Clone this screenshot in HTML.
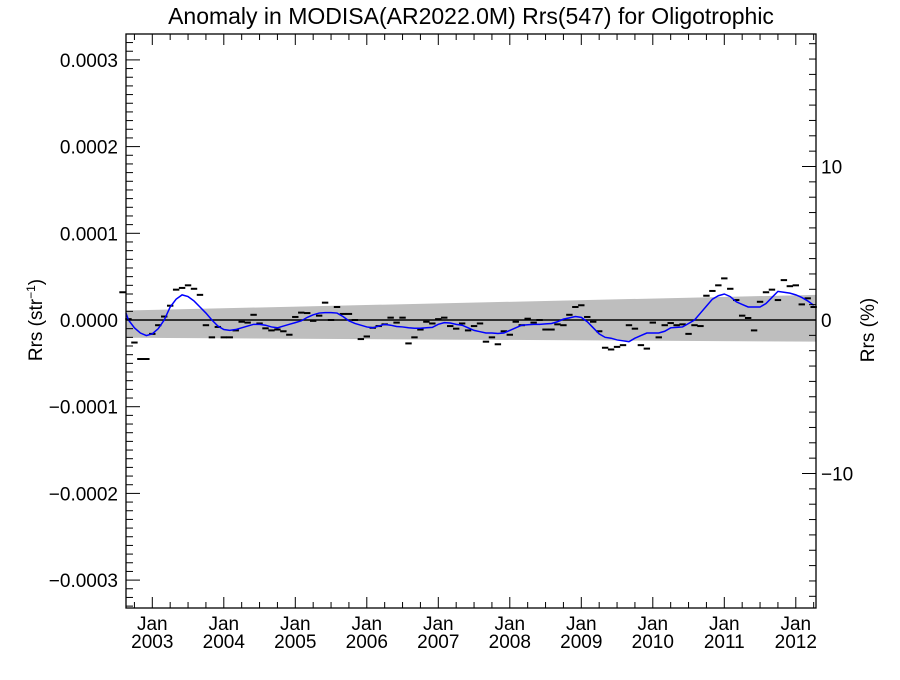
<!DOCTYPE html>
<html><head><meta charset="utf-8"><style>
body{margin:0;background:#fff;}
svg text{font-family:"Liberation Sans",sans-serif;fill:#000;}
</style></head><body>
<svg id="chart" width="900" height="675" viewBox="0 0 900 675">
<text x="471" y="24" font-size="23" text-anchor="middle">Anomaly in MODISA(AR2022.0M) Rrs(547) for Oligotrophic</text>
<g id="plot"></g>
</svg>
<script>
// monthly anomalies (units of 1e-5 sr^-1), starting Aug 2002
const startYear = 2002, startMonth = 8;
const monthlyAnomaly = [3.2,0.1,-2.6,-4.5,-4.5,-1.6,-0.6,0.4,1.65,3.5,3.7,4.0,3.6,2.9,-0.6,-2.0,-0.8,-2.0,-2.0,-1.2,-0.2,-0.3,0.6,-0.4,-0.96,-1.2,-1.1,-1.3,-1.7,0.35,0.85,0.8,-0.1,0.5,2.0,0,1.5,0.7,0.7,0,
-2.2,-1.9,-0.9,-0.7,-0.5,0.27,-0.3,0.27,-2.7,-2.0,-1.1,-0.2,-0.4,0.1,0.27,-0.7,-1.0,-0.4,-1.2,-0.7,-0.4,-2.5,-2.0,-2.8,-1.3,-1.7,-0.2,-0.6,0.15,-0.3,0,-1.1,-1.1,-0.5,-0.6,0.6,1.5,
1.7,0.35,-0.2,-1.3,-3.2,-3.4,-3.1,-2.9,-0.6,-1.0,-2.9,-3.3,-0.3,-2.0,-0.6,-0.35,-0.6,-0.5,-1.6,-0.6,-0.7,2.8,3.35,4.0,4.8,3.6,2.3,0.5,0.23,-1.2,2.1,3.2,3.5,2.3,4.6,3.9,4.0,1.8,2.5,1.5];
const smoothAnomaly = [0.8,0,-0.9,-1.5,-1.8,-1.6,-1.0,0,1.5,2.4,2.9,2.7,2.2,1.5,0.8,0,-0.7,-1.1,-1.2,-1.1,-0.9,-0.7,-0.5,-0.5,-0.6,-0.8,-0.9,-0.7,-0.5,-0.3,-0.1,0.3,0.6,0.8,0.85,0.85,0.8,0.4,-0.1,-0.4,-0.6,-0.8,-0.9,-0.7,-0.5,-0.6,-0.75,-0.8,-0.9,-0.95,-0.95,-0.9,-0.85,-0.5,-0.3,-0.35,-0.5,-0.6,-0.9,-1.2,-1.35,-1.5,-1.5,-1.55,-1.5,-1.2,-0.9,-0.6,-0.55,-0.5,-0.5,-0.45,-0.4,-0.2,0.1,0.25,0.4,0.3,-0.2,-0.9,-1.6,-2.0,-2.1,-2.3,-2.4,-2.5,-2.1,-1.8,-1.5,-1.5,-1.5,-1.3,-0.9,-0.85,-0.8,-0.4,0,0.8,1.6,2.4,2.8,3.0,2.7,2.1,1.8,1.5,1.5,1.5,1.9,2.6,3.3,3.2,3.1,2.9,2.6,2.2,1.7];
const bandTop = [1.1, 2.9];      // at left / right edge
const bandBottom = [-2.05, -2.5];
const leftTicks = [0.0003,0.0002,0.0001,0,-0.0001,-0.0002,-0.0003];
const leftTickLabels = ["0.0003","0.0002","0.0001","0.0000","\u22120.0001","\u22120.0002","\u22120.0003"];
const rightTicks = [10,0,-10];
const rightTickLabels = ["10","0","\u221210"];
const yearTicks = [2003,2004,2005,2006,2007,2008,2009,2010,2011,2012];

const L=126,R=816,T=34,B=608;
const xJan2003=152.3, pxYear=71.5;
const xOfYear = y => xJan2003 + (y-2003)*pxYear;
const xOfIdx = i => xOfYear(startYear + (startMonth-1+i)/12);
const y0=320, pxPerUnit=8.67; // per 1e-5
const yOfV = v => y0 - v*pxPerUnit;
const yOfReal = r => yOfV(r*1e5);
const yOfPct = p => y0 - p*15.35;
const NS="http://www.w3.org/2000/svg";
const plot=document.getElementById('plot');
function mk(tag,attrs,parent){const e=document.createElementNS(NS,tag);for(const k in attrs)e.setAttribute(k,attrs[k]);(parent||plot).appendChild(e);return e;}

// band
const band=mk('polygon',{points:`${L},${yOfV(bandTop[0])} ${R},${yOfV(bandTop[1])} ${R},${yOfV(bandBottom[1])} ${L},${yOfV(bandBottom[0])}`,fill:'#bebebe'});


// zero line
const zl=mk('line',{x1:L,x2:R,y1:y0,y2:y0,stroke:'#000','stroke-width':1.5});


// dashes
monthlyAnomaly.forEach((v,i)=>{
  const x=xOfIdx(i);
  const d=mk('line',{x1:x-3.2,x2:x+3.2,y1:yOfV(v),y2:yOfV(v),stroke:'#000','stroke-width':2});
  
  
});
// smooth line
const pts=smoothAnomaly.map((v,i)=>[Math.max(L,Math.min(R,xOfIdx(i))),yOfV(v)]);
const sl=mk('polyline',{points:pts.map(p=>p.join(',')).join(' '),fill:'none',stroke:'#0000ff','stroke-width':1.5});


// frame
const fr=mk('rect',{x:L,y:T,width:R-L,height:B-T,fill:'none',stroke:'#000','stroke-width':1.3});


// left ticks minor every 1e-5
for(let k=-33;k<=33;k++){
  const y=yOfV(k); if(y<T||y>B) continue;
  const major=(k%10===0);
  mk('line',{x1:L,x2:L+(major?14:7),y1:y,y2:y,stroke:'#000','stroke-width':1});
}
leftTicks.forEach((t,i)=>{
  const tx=mk('text',{x:L-8,y:yOfReal(t)+7,'font-size':19,'text-anchor':'end'});
  tx.textContent=leftTickLabels[i];
  
  
});
// right ticks minor every 1%
for(let p=-18;p<=18;p++){
  const y=yOfPct(p); if(y<T||y>B) continue;
  const major=(p%10===0);
  mk('line',{x1:R,x2:R-(major?14:7),y1:y,y2:y,stroke:'#000','stroke-width':1});
}
rightTicks.forEach((t,i)=>{
  const tx=mk('text',{x:R+5,y:yOfPct(t)+7,'font-size':19});
  tx.textContent=rightTickLabels[i];
  
  
});
// x ticks
for(let q=-4;q<=40;q++){
  const x=xOfYear(2003+q/4); if(x<L||x>R) continue;
  const major=(q%4===0);
  mk('line',{x1:x,x2:x,y1:B,y2:B-(major?11:6),stroke:'#000','stroke-width':1});
  mk('line',{x1:x,x2:x,y1:T,y2:T+(major?11:6),stroke:'#000','stroke-width':1});
}
yearTicks.forEach(yr=>{
  const x=xOfYear(yr);
  const a=mk('text',{x:x,y:B+22,'font-size':19,'text-anchor':'middle'});a.textContent='Jan';
  
  
  const b=mk('text',{x:x,y:B+40,'font-size':19,'text-anchor':'middle'});b.textContent=String(yr);
  
  
});
// axis titles
const lt=mk('text',{x:0,y:0,'font-size':19,'text-anchor':'middle',transform:`translate(42,${y0}) rotate(-90)`});
lt.innerHTML='Rrs (str<tspan dy="-7" font-size="12">\u22121</tspan><tspan dy="7">)</tspan>';


const rt=mk('text',{x:0,y:0,'font-size':19,'text-anchor':'middle',transform:`translate(874,${y0+10}) rotate(-90)`});
rt.textContent='Rrs (%)';


</script>
</body></html>
